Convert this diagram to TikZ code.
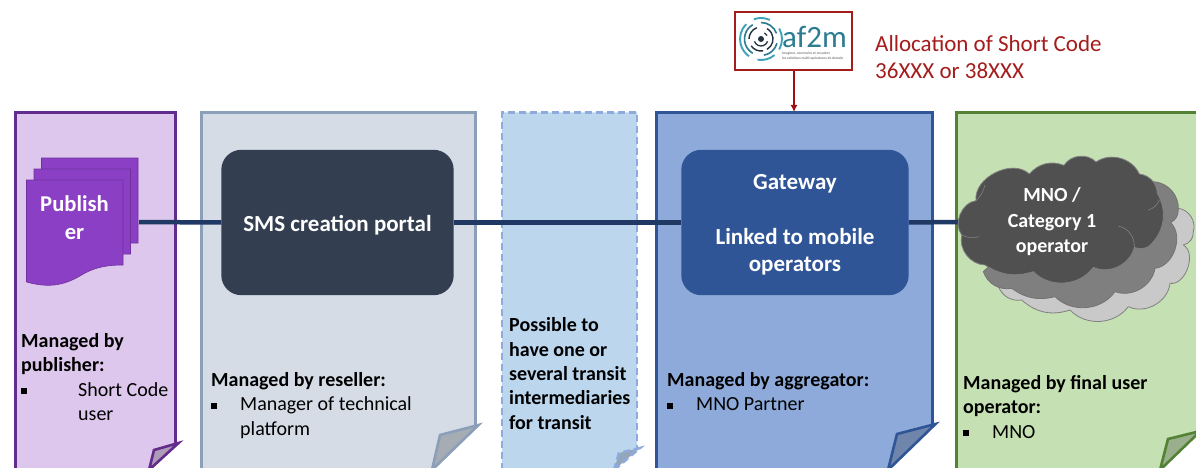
\documentclass[tikz,border=0pt]{standalone}
\usepackage{fontspec}
\usetikzlibrary{arrows.meta,calc}
\setmainfont{Carlito}
\definecolor{txtred}{HTML}{A51C1C}
\definecolor{arrred}{HTML}{A00F14}
\definecolor{lineblue}{HTML}{1F3864}
\definecolor{p1}{HTML}{DEC7EC}\definecolor{p1d}{HTML}{622B8C}
\definecolor{p2}{HTML}{D5DCE6}\definecolor{p2d}{HTML}{8C9FB8}
\definecolor{p3}{HTML}{BCD6EE}\definecolor{p3d}{HTML}{8FAADC}
\definecolor{p4}{HTML}{8EAADB}\definecolor{p4d}{HTML}{2F5597}
\definecolor{p5}{HTML}{C5E0B3}\definecolor{p5d}{HTML}{548235}
\definecolor{smsc}{HTML}{333F50}\definecolor{gwc}{HTML}{2F5597}
\definecolor{pubc}{HTML}{8B3FC4}
\definecolor{cl3}{HTML}{C9C9C9}\definecolor{cl2}{HTML}{7F7F7F}\definecolor{cl1}{HTML}{505050}
\definecolor{teal1}{HTML}{3FA2B8}\definecolor{teal2}{HTML}{2C7C92}\definecolor{navy1}{HTML}{24323F}
\newcommand{\sq}{\rule[2pt]{6pt}{6pt}}
% left, right, fill, stroke, extra, tip y, inner x, inner y, bottom x
\newcommand{\pagepath}[9]{%
  \def\tipy{#6}\def\inx{#7}\def\iny{#8}\def\botx{#9}%
  \fill[#3] (#1,112.5) -- (#2,112.5) -- (#2,\tipy) -- (\botx,468) -- (#1,468) -- cycle;
  \fill[#3!78!black] (\inx,\iny) -- (#2+3,\tipy-1) -- (\botx,470) -- cycle;
  \draw[pagestroke,#4,#5] (#1,470) -- (#1,112.5) -- (#2,112.5) -- (#2,\tipy);
  \draw[pagestroke,#4,#5] (\botx,470) -- (\inx,\iny) -- (#2+3,\tipy-1) -- cycle;
}
\newcommand{\arcat}[5]{\draw[#4,line width=#5pt] ($(lc)+(#2:#1pt)$) arc[start angle=#2,end angle=#3,radius=#1pt];}
\tikzset{
  x=1pt,y=-1pt,
  pagestroke/.style={line width=2.6pt,line join=miter},
  lbl/.style={anchor=north west,align=left,inner sep=0pt,font=\fontsize{20}{24.4}\selectfont,text=black},
  wlbl/.style={align=center,inner sep=0pt,text=white,font=\fontsize{23}{27.5}\selectfont\bfseries},
  cloudpart/.style={line width=.8pt,line join=round},
  conn/.style={lineblue,line width=4.5pt},
  hole/.style={inner sep=0pt,minimum width=#1,minimum height=145pt},
}
\begin{document}
\begin{tikzpicture}
\useasboundingbox (0,0) rectangle (1196,468);
\fill[white] (0,0) rectangle (1196,468);
% pages
\pagepath{15.5}{175.5}{p1}{p1d}{}{444}{154}{450}{149}
\pagepath{201.5}{475.5}{p2}{p2d}{}{426}{440}{435}{432}
\pagepath{502}{637}{p3}{p3d}{dash pattern=on 7pt off 4pt}{449}{619}{453}{614}
\pagepath{656.5}{932.5}{p4}{p4d}{}{425}{897}{434}{888}
\pagepath{956.5}{1197.5}{p5}{p5d}{}{432}{1168}{439}{1160}
\coordinate (pubr) at (139,222);
\coordinate (gwtop) at (794,112);
\node[hole=232pt] (sms) at (337.5,222.5) {};
\node[hole=227pt] (gw) at (795,222.5) {};
\coordinate (cloudl) at (958,222);
\draw[conn] (pubr) -- (sms.west);
\draw[conn] (sms.east) -- (gw.west);
\draw[conn] (gw.east) -- (cloudl);
\fill[smsc,rounded corners=20pt] (sms.south west) rectangle (sms.north east);
\fill[gwc,rounded corners=20pt] (gw.south west) rectangle (gw.north east);
\node[wlbl] (smst) at (337.5,225) {SMS creation portal};
\node[wlbl] (gwt) at (795,225) {Gateway\\[27.5pt]Linked to mobile\\operators};
% publisher stack
\foreach \dx/\dy in {15/-22,7.5/-11,0/0}{
  \filldraw[fill=pubc,draw=pubc!80!black,line width=.6pt,shift={(\dx,\dy)}]
    (26.5,180) -- (123,180) -- (123,265) .. controls (105,265) and (95,268) .. (85,273) .. controls (70,282) and (55,290) .. (26.5,282) -- cycle;
}
\node[wlbl,font=\fontsize{22.6}{28}\selectfont\bfseries] (pub) at (74.5,217.5) {Publish\\er};
% cloud
\begin{scope}[shift={(940,150)},x=.3333pt,y=-.3333pt]
\filldraw[cloudpart,fill=cl3,draw=gray] (640,160) -- (715,175) to[bend left=50] (760,245) to[bend left=40] (730,285) to[bend left=80] (690,400) to[bend left=55] (565,470) to[bend left=50] (390,480) to[bend left=30] (245,450) to[bend left=40] (175,408) -- (300,250) -- cycle;
\filldraw[cloudpart,fill=cl2,draw=gray!90!black] (640,95) to[bend left=45] (715,180) to[bend left=30] (692,218) to[bend left=65] (645,355) to[bend left=50] (525,425) to[bend left=50] (345,440) to[bend left=25] (215,415) to[bend left=40] (130,365) -- (300,200) -- cycle;
\filldraw[cloudpart,fill=cl1,draw=gray] (65,255) to[bend left=60] (108,152) to[bend left=70] (268,72) to[bend left=35] (372,46) to[bend left=52] (468,36) to[bend left=50] (598,72) to[bend left=40] (652,130) to[bend left=40] (625,290) to[bend left=25] (583,292) to[bend left=50] (460,352) to[bend left=50] (280,365) to[bend left=25] (135,345) to[bend left=50] (65,255) -- cycle;
\draw[gray,line width=.6pt] (108,152) to[bend right=15] (135,105);
\draw[gray,line width=.6pt] (625,180) to[bend right=25] (658,150);
\draw[gray,line width=.6pt] (535,228) to[bend left=40] (583,292);
\draw[gray,line width=.6pt] (65,255) to[bend right=20] (118,260);
\end{scope}
\node[wlbl,font=\fontsize{20}{25.5}\selectfont\bfseries] (mno) at (1052,222) {MNO /\\Category 1\\operator};
% page labels
\node[lbl] (t1) at (21,333) {\textbf{Managed by}\\\textbf{publisher:}\\\sq\hspace{51pt}Short Code\\\hspace{57pt}user};
\node[lbl] (t2) at (211,372) {\textbf{Managed by reseller:}\\\sq\hspace{23pt}Manager of technical\\\hspace{29pt}platform};
\node[lbl] (t3) at (509,317.5) {\textbf{Possible to}\\\textbf{have one or}\\\textbf{several transit}\\\textbf{intermediaries}\\\textbf{for transit}};
\node[lbl] (t4) at (667,372) {\textbf{Managed by aggregator:}\\\sq\hspace{23pt}MNO Partner};
\node[lbl] (t5) at (963,375) {\textbf{Managed by final user}\\\textbf{operator:}\\\sq\hspace{23pt}MNO};
% logo
\node[draw=txtred,line width=1.1pt,fill=white,minimum width=117pt,minimum height=58pt,inner sep=0pt] (logo) at (793.5,41) {};
\coordinate (lc) at (761,39);
\fill[navy1] (lc) circle[radius=3pt];
\arcat{7}{200}{340}{navy1}{1.3}
\arcat{7}{30}{60}{navy1}{1.3}
\arcat{12}{-60}{60}{navy1}{1.4}
\arcat{12}{110}{180}{navy1}{1.4}
\arcat{12}{215}{280}{navy1}{1.4}
\arcat{16.5}{20}{90}{teal2}{1.6}
\arcat{16.5}{120}{240}{teal2}{1.6}
\arcat{16.5}{280}{345}{teal2}{1.6}
\arcat{21}{-30}{30}{teal1}{1.9}
\arcat{21}{65}{110}{teal1}{1.9}
\arcat{21}{135}{235}{teal1}{1.9}
\arcat{21}{260}{310}{teal1}{1.9}
\node[inner sep=0pt,anchor=base west,text depth=0pt,text=teal2,font=\fontsize{31}{31}\selectfont] (af) at (782,47.5) {af2m};
\node[inner sep=0pt,anchor=north west,text=gray,align=left,font=\fontsize{3.6}{4.6}\selectfont\bfseries] (tag) at (782,52) {Imaginer, construire et encadrer\\les solutions multi-opérateurs de demain};
\draw[arrred,line width=1.9pt,-{Latex[length=7pt,width=7pt]}] (logo.south -| gwtop) -- (gwtop);
\node[anchor=north west,align=left,inner sep=0pt,text=txtred,font=\fontsize{23}{27}\selectfont] (alloc) at (875,35) {Allocation of Short Code\\36XXX or 38XXX};
\end{tikzpicture}
\end{document}
